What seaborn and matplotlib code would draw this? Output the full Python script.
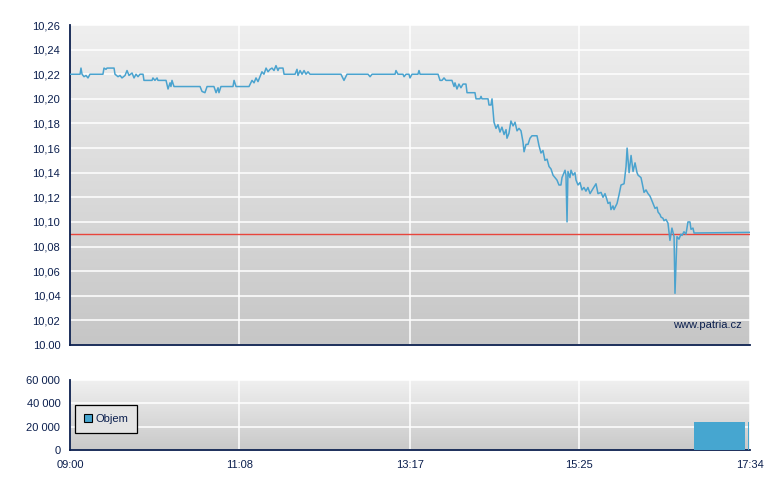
import numpy as np
import pandas as pd
import matplotlib
matplotlib.use("Agg")
import matplotlib.pyplot as plt
from matplotlib.patches import Patch
import seaborn as sns

# ---- data ----
# minutes after 09:00 and traded price
minutes = [0.0, 7.6, 8.3, 9.1, 10.6, 12.1, 13.6, 15.1, 24.9, 25.7, 27.2, 28.0, 33.3, 34.0,
           36.3, 37.8, 39.3, 41.6, 43.1, 44.6, 46.9, 48.4, 49.9, 51.4, 52.9, 55.2, 55.9,
           62.0, 62.7, 64.2, 65.8, 66.5, 72.6, 74.1, 75.6, 76.3, 77.1, 78.6, 98.3, 99.8,
           102.0, 103.6, 108.8, 110.4, 111.9, 112.6, 114.1, 123.2, 124.0, 125.5, 135.3,
           137.6, 139.1, 140.6, 142.1, 143.6, 145.1, 146.6, 148.2, 149.7, 151.2, 152.7,
           154.2, 155.7, 157.2, 158.0, 161.0, 161.8, 170.1, 171.6, 172.3, 173.9, 175.4,
           176.9, 178.4, 179.9, 181.4, 204.8, 207.1, 209.4, 225.3, 226.8, 228.3, 245.7,
           246.4, 247.9, 251.7, 252.5, 254.0, 256.2, 257.0, 258.5, 263.0, 263.8, 264.6,
           278.2, 279.7, 281.2, 282.7, 284.2, 288.7, 290.3, 291.0, 292.5, 294.0, 295.5,
           297.1, 299.3, 300.1, 306.1, 306.9, 309.9, 310.7, 311.4, 316.0, 316.7, 318.2,
           319.0, 320.5, 322.0, 323.5, 325.0, 326.5, 328.1, 329.6, 330.3, 331.8, 333.3,
           334.9, 336.4, 337.9, 339.4, 340.9, 342.4, 343.2, 344.7, 346.2, 347.7, 349.2,
           353.0, 354.5, 356.0, 357.5, 359.0, 360.6, 362.1, 363.6, 365.1, 366.6, 368.1,
           369.6, 371.1, 371.9, 374.2, 374.9, 375.7, 376.4, 377.9, 378.7, 380.2, 381.7,
           382.5, 384.0, 385.5, 387.0, 388.5, 390.0, 391.5, 393.1, 395.3, 397.6, 399.1,
           401.4, 402.9, 404.4, 405.9, 406.7, 408.2, 408.9, 410.4, 411.2, 413.5, 415.0,
           416.5, 418.8, 420.3, 421.1, 422.6, 424.1, 425.6, 427.1, 428.6, 429.4, 431.6,
           432.4, 433.9, 435.4, 436.9, 438.4, 439.2, 440.7, 442.2, 443.7, 444.5, 446.0,
           446.7, 448.2, 449.0, 450.5, 452.0, 453.5, 455.0, 456.6, 457.3, 458.8, 460.3,
           461.8, 462.6, 464.1, 465.6, 467.1, 468.6, 469.4, 470.9, 471.7, 514.0]
prices = [10.220, 10.220, 10.225, 10.220, 10.218, 10.219, 10.217, 10.220, 10.220, 10.225,
          10.224, 10.225, 10.225, 10.220, 10.218, 10.219, 10.217, 10.219, 10.223, 10.219,
          10.221, 10.217, 10.220, 10.218, 10.220, 10.220, 10.215, 10.215, 10.217, 10.215,
          10.217, 10.215, 10.215, 10.208, 10.213, 10.210, 10.215, 10.210, 10.210, 10.206,
          10.205, 10.210, 10.210, 10.205, 10.209, 10.205, 10.210, 10.210, 10.215, 10.210,
          10.210, 10.215, 10.213, 10.217, 10.214, 10.218, 10.222, 10.220, 10.225, 10.222,
          10.224, 10.225, 10.223, 10.227, 10.223, 10.225, 10.225, 10.220, 10.220, 10.224,
          10.219, 10.223, 10.220, 10.223, 10.220, 10.222, 10.220, 10.220, 10.215, 10.220,
          10.220, 10.218, 10.220, 10.220, 10.223, 10.220, 10.220, 10.218, 10.220, 10.220,
          10.217, 10.220, 10.220, 10.223, 10.220, 10.220, 10.215, 10.215, 10.217, 10.215,
          10.215, 10.210, 10.213, 10.208, 10.212, 10.209, 10.212, 10.212, 10.205, 10.205,
          10.200, 10.200, 10.202, 10.200, 10.200, 10.195, 10.195, 10.200, 10.181, 10.176,
          10.179, 10.173, 10.177, 10.171, 10.175, 10.168, 10.172, 10.182, 10.178, 10.181,
          10.174, 10.176, 10.174, 10.165, 10.157, 10.163, 10.163, 10.168, 10.170, 10.170,
          10.162, 10.156, 10.158, 10.150, 10.151, 10.145, 10.143, 10.138, 10.136, 10.134,
          10.130, 10.130, 10.136, 10.142, 10.138, 10.100, 10.141, 10.136, 10.142, 10.138,
          10.140, 10.134, 10.130, 10.132, 10.126, 10.128, 10.125, 10.128, 10.123, 10.127,
          10.131, 10.123, 10.124, 10.120, 10.123, 10.118, 10.115, 10.116, 10.110, 10.113,
          10.110, 10.115, 10.122, 10.130, 10.131, 10.145, 10.160, 10.140, 10.154, 10.141,
          10.148, 10.140, 10.138, 10.136, 10.132, 10.124, 10.126, 10.123, 10.121, 10.119,
          10.115, 10.111, 10.112, 10.108, 10.106, 10.104, 10.103, 10.101, 10.102, 10.099,
          10.085, 10.095, 10.088, 10.042, 10.088, 10.086, 10.090, 10.089, 10.092, 10.090,
          10.100, 10.100, 10.094, 10.095, 10.091, 10.0915]
reference_price = 10.09

# volume intervals: start (minutes after 09:00), duration (minutes), volume
vol_start = [471.7, 512.5]
vol_duration = [38.5, 0.8]
vol_values = [24300, 24300]

time_labels = ["09:00", "11:08", "13:17", "15:25", "17:34"]
price_ticks = [10.00, 10.02, 10.04, 10.06, 10.08, 10.10, 10.12, 10.14, 10.16, 10.18,
               10.20, 10.22, 10.24, 10.26]
price_labels = ["10.00", "10,02", "10,04", "10,06", "10,08", "10,10", "10,12", "10,14",
                "10,16", "10,18", "10,20", "10,22", "10,24", "10,26"]
vol_ticks = [0, 20000, 40000, 60000]
vol_labels = ["0", "20 000", "40 000", "60 000"]
legend_label = "Objem"
watermark = "www.patria.cz"

# ---- styling ----
sns.set_style("white")
plt.rcParams['font.family'] = ['Liberation Sans', 'DejaVu Sans']
navy = "#0b1f4e"
line_col = "#4aa3cf"

def t2m(s):
    h, m = s.split(":")
    return (int(h) - 9) * 60 + int(m)

tick_pos = [t2m(s) for s in time_labels]
x_max = tick_pos[-1]

fig = plt.figure(figsize=(7.8, 4.9), dpi=100)
ax = fig.add_axes([70/780, 1-345/490, 680/780, 320/490])
axv = fig.add_axes([70/780, 1-450/490, 680/780, 70/490])

def gradient(a, top, bottom):
    g = np.linspace(0, 1, 256).reshape(-1, 1)
    c1 = np.array(matplotlib.colors.to_rgb(top))
    c2 = np.array(matplotlib.colors.to_rgb(bottom))
    img = c1[None, None, :] * (1 - g[:, :, None]) + c2[None, None, :] * g[:, :, None]
    a.imshow(img, extent=[0, 1, 0, 1], transform=a.transAxes, aspect='auto', zorder=-10)

df = pd.DataFrame({"minute": minutes, "price": prices})

for a in (ax, axv):
    a.set_xlim(0, x_max)
    a.set_xticks(tick_pos)
    for s in ("top", "right"):
        a.spines[s].set_visible(False)
    for s in ("left", "bottom"):
        a.spines[s].set_color(navy)
        a.spines[s].set_linewidth(1.3)
    a.tick_params(axis='both', direction='out', length=5, width=1, color=navy,
                  labelcolor=navy, labelsize=8, pad=2)
    a.grid(True, color='white', linewidth=1.1)
    a.set_axisbelow(True)
    a.set_xlabel("")
    a.set_ylabel("")

gradient(ax, "#efefef", "#c6c6c6")
gradient(axv, "#f0f0f0", "#c9c9c9")

sns.lineplot(data=df, x="minute", y="price", ax=ax, color=line_col, linewidth=1.1,
             estimator=None, sort=False, zorder=3)
ax.axhline(reference_price, color="#e8453c", linewidth=1.0, zorder=2)
ax.set_ylim(price_ticks[0], price_ticks[-1])
ax.set_yticks(price_ticks)
ax.set_yticklabels(price_labels)
ax.set_xticklabels([])
ax.set_xlabel("")
ax.set_ylabel("")
ax.text(0.988, 0.062, watermark, transform=ax.transAxes, ha='right', va='center',
        color=navy, fontsize=8)

axv.bar(vol_start, vol_values, width=vol_duration, align='edge', color="#46a6d0",
        linewidth=0, zorder=3)
axv.set_ylim(0, 60000)
axv.set_yticks(vol_ticks)
axv.set_yticklabels(vol_labels)
axv.set_xticklabels(time_labels)
leg = axv.legend(handles=[Patch(facecolor="#46a6d0", edgecolor="black", linewidth=0.8,
                                label=legend_label)],
                 loc='center left', bbox_to_anchor=(0.007, 0.44), frameon=True,
                 fancybox=False, fontsize=8, handlelength=0.75, handleheight=0.75,
                 handletextpad=0.3, borderpad=0.8, borderaxespad=0)
leg.get_frame().set_edgecolor("black")
leg.get_frame().set_linewidth(0.9)
leg.get_frame().set_facecolor("#e4e4e4")
leg.get_frame().set_alpha(1)
for t in leg.get_texts():
    t.set_color(navy)

fig.savefig("out.png", dpi=100, facecolor="white")
